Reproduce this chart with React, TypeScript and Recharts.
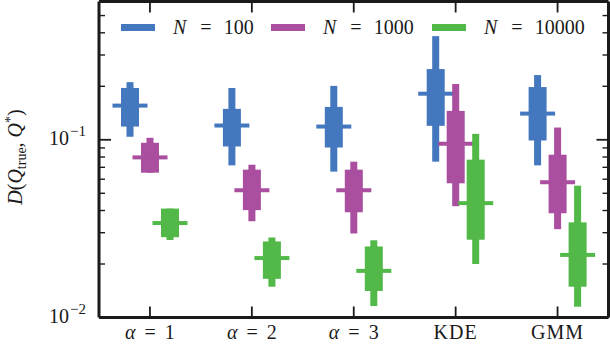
import React from 'react';
import { ComposedChart, Bar, Line, XAxis, YAxis } from 'recharts';

// ---- data ----
const categories = ['α = 1', 'α = 2', 'α = 3', 'KDE', 'GMM'];

const n100Low = [0.104, 0.0718, 0.0662, 0.0753, 0.0718];
const n100Q1 = [0.1187, 0.0917, 0.0905, 0.1198, 0.0991];
const n100Med = [0.1557, 0.1203, 0.1187, 0.1817, 0.1404];
const n100Q3 = [0.1957, 0.1493, 0.1531, 0.25, 0.198];
const n100High = [0.211, 0.1957, 0.201, 0.383, 0.2313];

const n1000Low = [0.0653, 0.0348, 0.0297, 0.0423, 0.0314];
const n1000Q1 = [0.0653, 0.0402, 0.0391, 0.0569, 0.0386];
const n1000Med = [0.0796, 0.052, 0.052, 0.095, 0.0577];
const n1000Q3 = [0.0962, 0.0679, 0.0679, 0.1454, 0.0824];
const n1000High = [0.1026, 0.0724, 0.0753, 0.206, 0.1172];

const n10000Low = [0.0273, 0.0149, 0.0116, 0.02, 0.0115];
const n10000Q1 = [0.0283, 0.0165, 0.0141, 0.0274, 0.0149];
const n10000Med = [0.034, 0.0216, 0.0183, 0.044, 0.0225];
const n10000Q3 = [0.041, 0.0268, 0.0251, 0.0773, 0.0343];
const n10000High = [0.041, 0.0282, 0.0272, 0.108, 0.0552];

const seriesNames = ['100', '1000', '10000'];
const yTicks = [0.01, 0.02, 0.03, 0.04, 0.05, 0.06, 0.07, 0.08, 0.09, 0.1, 0.2, 0.3, 0.4, 0.5];
const majorTicks = [0.01, 0.1];
const majorTickLabels = ['−2', '−1'];

// ---- styles ----
const COLORS = ['#4478be', '#aa4fa0', '#52b848'];
const INK = '#1a1a1a';
const FONT = '"Liberation Serif", "DejaVu Serif", serif';

const stats = (lo: number[], q1: number[], md: number[], q3: number[], hi: number[], i: number) => ({
  low: lo[i], q1: q1[i], med: md[i], q3: q3[i], high: hi[i],
});

const data = categories.map((cat, i) => ({
  cat,
  s0: [n100Low[i], n100High[i]],
  s0Stats: stats(n100Low, n100Q1, n100Med, n100Q3, n100High, i),
  s1: [n1000Low[i], n1000High[i]],
  s1Stats: stats(n1000Low, n1000Q1, n1000Med, n1000Q3, n1000High, i),
  s2: [n10000Low[i], n10000High[i]],
  s2Stats: stats(n10000Low, n10000Q1, n10000Med, n10000Q3, n10000High, i),
  frameRef: n100Med[i],
}));

const makeShape = (key: string, color: string) => (props: any) => {
  const { x, y, width, height, payload } = props;
  const s = payload[key + 'Stats'];
  const top = Math.min(y, y + height);
  const h = Math.abs(height);
  const lh = Math.log(s.high);
  const ll = Math.log(s.low);
  // log-scale interpolation between the scaled ends (high at top, low at bottom)
  const pos = (v: number) => (lh === ll ? top : top + (h * (lh - Math.log(v))) / (lh - ll));
  const cx = x + width / 2;
  const boxTop = pos(s.q3);
  const boxBot = pos(s.q1);
  const m = pos(s.med);
  return (
    <g>
      <rect x={cx - 3.5} y={top} width={7} height={h} fill={color} />
      <rect x={x} y={boxTop} width={width} height={boxBot - boxTop} fill={color} />
      <rect x={cx - 17.5} y={m - 2} width={35} height={4} fill={color} />
    </g>
  );
};

const XTickBottom = (props: any) => {
  const { x, y, payload } = props;
  const label: string = payload.value;
  const isAlpha = label.startsWith('α');
  return (
    <g>
      <line x1={x} x2={x} y1={y} y2={y - 11} stroke={INK} strokeWidth={1.8} />
      <text
        x={x}
        y={y + 21}
        textAnchor="middle"
        fontFamily={FONT}
        fontSize={20}
        fill={INK}
        letterSpacing={isAlpha ? 0 : 1}
      >
        {isAlpha ? (
          <>
            <tspan fontStyle="italic">α</tspan>
            <tspan dx={9}>=</tspan>
            <tspan dx={9}>{label.split('=')[1].trim()}</tspan>
          </>
        ) : (
          label
        )}
      </text>
    </g>
  );
};

const XTickTop = (props: any) => {
  const { x, y } = props;
  return <line x1={x} x2={x} y1={y} y2={y + 11} stroke={INK} strokeWidth={1.8} />;
};

const YTickLeft = (props: any) => {
  const { x, y, payload } = props;
  const v = payload.value;
  const mi = majorTicks.findIndex((t) => Math.abs(t - v) < 1e-9);
  const major = mi >= 0;
  return (
    <g>
      <line x1={x} x2={x + (major ? 12 : 6)} y1={y} y2={y} stroke={INK} strokeWidth={major ? 1.8 : 1.4} />
      {major && (
        <text x={x - 13} y={y + 5} textAnchor="end" fontFamily={FONT} fontSize={20} fill={INK}>
          <tspan>10</tspan>
          <tspan dx={1} dy={-9} fontSize={15}>{majorTickLabels[mi]}</tspan>
        </text>
      )}
    </g>
  );
};

const YTickRight = (props: any) => {
  const { x, y, payload } = props;
  const v = payload.value;
  const major = majorTicks.some((t) => Math.abs(t - v) < 1e-9);
  return <line x1={x} x2={x - (major ? 12 : 6)} y1={y} y2={y} stroke={INK} strokeWidth={major ? 1.8 : 1.4} />;
};

const YLabel = () => (
  <text
    transform="translate(22, 157) rotate(-90)"
    textAnchor="middle"
    fontFamily={FONT}
    fontSize={20}
    fill={INK}
  >
    <tspan fontStyle="italic">D</tspan>
    <tspan>(</tspan>
    <tspan fontStyle="italic">Q</tspan>
    <tspan fontSize={14} dy={4}>true</tspan>
    <tspan dy={-4}>, </tspan>
    <tspan fontStyle="italic">Q</tspan>
    <tspan fontSize={14} dy={-7}>*</tspan>
    <tspan dy={7}>)</tspan>
  </text>
);

const legendLeft = [121, 271, 432];

const LegendOverlay = () => (
  <div style={{ position: 'absolute', left: 0, top: 0, width: 610, height: 50, pointerEvents: 'none' }}>
    {seriesNames.map((n, i) => (
      <div
        key={n}
        style={{
          position: 'absolute',
          left: legendLeft[i],
          top: 13,
          display: 'flex',
          alignItems: 'center',
          fontFamily: FONT,
          fontSize: 20,
          color: INK,
          whiteSpace: 'nowrap',
          lineHeight: '28px',
        }}
      >
        <span style={{ display: 'inline-block', width: 34, height: 7, background: COLORS[i], marginRight: 18 }} />
        <span style={{ fontStyle: 'italic' }}>N</span>
        <span style={{ marginLeft: 14 }}>=</span>
        <span style={{ marginLeft: 12 }}>{n}</span>
      </div>
    ))}
  </div>
);

export default function App() {
  return (
    <div style={{ position: 'absolute', left: 0, top: 0, width: 610, height: 346, background: '#fff' }}>
      <ComposedChart
        width={610}
        height={346}
        data={data}
        margin={{ top: 0.5, right: 0.5, left: 0, bottom: 0 }}
        barGap={2}
      >
        <XAxis
          dataKey="cat"
          height={28.5}
          tickLine={false}
          tickSize={0}
          tickMargin={0}
          axisLine={{ stroke: INK, strokeWidth: 3 }}
          tick={<XTickBottom />}
          interval={0}
        />
        <XAxis
          xAxisId="top"
          orientation="top"
          dataKey="cat"
          height={1}
          tickLine={false}
          tickSize={0}
          tickMargin={0}
          axisLine={{ stroke: INK, strokeWidth: 3 }}
          tick={<XTickTop />}
          interval={0}
        />
        <YAxis
          type="number"
          scale="log"
          domain={[0.01, 0.6]}
          allowDataOverflow
          ticks={yTicks}
          width={99}
          tickLine={false}
          tickSize={0}
          tickMargin={0}
          axisLine={{ stroke: INK, strokeWidth: 3 }}
          tick={<YTickLeft />}
          interval={0}
          label={{ content: <YLabel /> }}
        />
        <YAxis
          yAxisId="right"
          orientation="right"
          type="number"
          scale="log"
          domain={[0.01, 0.6]}
          allowDataOverflow
          ticks={yTicks}
          width={1}
          tickLine={false}
          tickSize={0}
          tickMargin={0}
          axisLine={{ stroke: INK, strokeWidth: 3 }}
          tick={<YTickRight />}
          interval={0}
        />
        {['s0', 's1', 's2'].map((k, i) => (
          <Bar
            key={k}
            dataKey={k}
            name={`N = ${seriesNames[i]}`}
            barSize={18}
            fill={COLORS[i]}
            isAnimationActive={false}
            shape={makeShape(k, COLORS[i])}
          />
        ))}
        <Line
          xAxisId="top"
          yAxisId="right"
          dataKey="frameRef"
          stroke="none"
          dot={false}
          activeDot={false}
          legendType="none"
          isAnimationActive={false}
        />
      </ComposedChart>
      <LegendOverlay />
    </div>
  );
}
